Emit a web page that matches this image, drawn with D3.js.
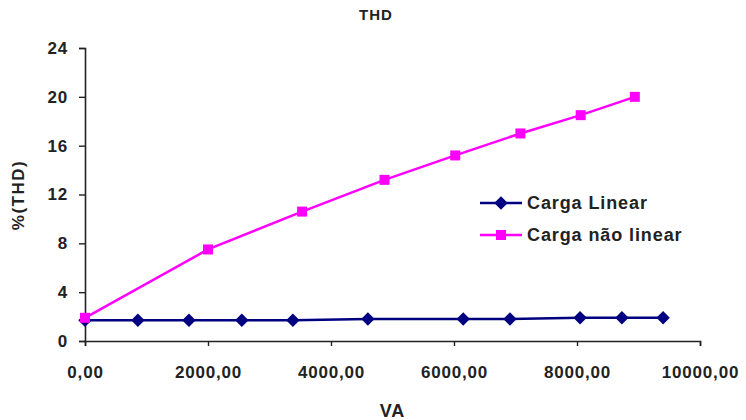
<!DOCTYPE html>
<html>
<head>
<meta charset="utf-8">
<script src="https://cdn.jsdelivr.net/npm/d3@7"></script>
<style>
  body { margin: 0; background: #fff; }
  text { font-family: "Liberation Sans", Arial, sans-serif; font-weight: bold; fill: #222; }
</style>
</head>
<body>
<div id="chart"></div>
<script>
// dados
const linearVA = [0, 860, 1690, 2550, 3380, 4600, 6150, 6910, 8050, 8730, 9400];
const linearTHD = [1.7, 1.7, 1.7, 1.7, 1.7, 1.8, 1.8, 1.8, 1.9, 1.9, 1.9];
const naoLinearVA = [0, 2000, 3530, 4870, 6020, 7080, 8060, 8940];
const naoLinearTHD = [1.9, 7.5, 10.6, 13.2, 15.2, 17.0, 18.5, 20.0];
const xTicks = [0, 2000, 4000, 6000, 8000, 10000];
const yTicks = [0, 4, 8, 12, 16, 20, 24];
const seriesNames = ["Carga Linear", "Carga não linear"];

const width = 746;
const height = 420;
const margin = { left: 85, right: 46, top: 48, bottom: 79 };

const svg = d3.select("#chart").append("svg")
    .attr("width", width)
    .attr("height", height);

const x = d3.scaleLinear().domain([0, 10000]).range([margin.left, width - margin.right]);
const y = d3.scaleLinear().domain([0, 24]).range([height - margin.bottom, margin.top]);

const fmt = d => d3.format(".2f")(d).replace(".", ",");

// eixo X
const gx = svg.append("g")
    .attr("transform", `translate(0,${height - margin.bottom})`)
    .call(d3.axisBottom(x).tickValues(xTicks).tickFormat(fmt).tickSize(5).tickSizeOuter(5).tickPadding(20));

// eixo Y
const gy = svg.append("g")
    .attr("transform", `translate(${margin.left},0)`)
    .call(d3.axisLeft(y).tickValues(yTicks).tickSize(6).tickSizeOuter(6).tickPadding(11));

[gx, gy].forEach(g => {
    g.select(".domain").attr("stroke", "#222").attr("stroke-width", 1.6);
    g.selectAll(".tick line").attr("stroke", "#222").attr("stroke-width", 1.4);
    g.selectAll(".tick text")
        .attr("fill", "#222")
        .style("font-size", "17px")
        .style("letter-spacing", "0.8px");
});

// título e rótulos
svg.append("text")
    .attr("x", 376).attr("y", 20)
    .attr("text-anchor", "middle")
    .style("font-size", "15px")
    .style("letter-spacing", "1px")
    .text("THD");

svg.append("text")
    .attr("x", (margin.left + width - margin.right) / 2).attr("y", 417)
    .attr("text-anchor", "middle")
    .style("font-size", "18px")
    .style("letter-spacing", "1px")
    .text("VA");

svg.append("text")
    .attr("transform", "translate(24,195) rotate(-90)")
    .attr("text-anchor", "middle")
    .style("font-size", "17px")
    .style("letter-spacing", "1.5px")
    .text("%(THD)");

const line = d3.line().x(d => x(d[0])).y(d => y(d[1]));

const linearData = linearVA.map((v, i) => [v, linearTHD[i]]);
const naoLinearData = naoLinearVA.map((v, i) => [v, naoLinearTHD[i]]);

const blue = "#000080";
const pink = "#ff00ff";

svg.append("path")
    .datum(linearData)
    .attr("fill", "none")
    .attr("stroke", blue)
    .attr("stroke-width", 2.5)
    .attr("d", line);

svg.append("path")
    .datum(naoLinearData)
    .attr("fill", "none")
    .attr("stroke", pink)
    .attr("stroke-width", 2.5)
    .attr("d", line);

const diamond = d3.symbol().type(d3.symbolDiamond2).size(115);
const square = d3.symbol().type(d3.symbolSquare).size(100);

svg.selectAll(".ptLinear")
    .data(linearData)
    .enter()
    .append("path")
    .attr("class", "ptLinear")
    .attr("transform", d => `translate(${x(d[0])},${y(d[1])})`)
    .attr("d", diamond)
    .attr("fill", blue);

svg.selectAll(".ptNaoLinear")
    .data(naoLinearData)
    .enter()
    .append("path")
    .attr("class", "ptNaoLinear")
    .attr("transform", d => `translate(${x(d[0])},${y(d[1])})`)
    .attr("d", square)
    .attr("fill", pink);

// legenda
const legend = svg.append("g").attr("transform", "translate(480,203)");
const legendColors = [blue, pink];
const legendSymbols = [diamond, square];

seriesNames.forEach((name, i) => {
    const row = legend.append("g").attr("transform", `translate(0,${i * 32})`);
    row.append("line")
        .attr("x1", 0).attr("x2", 42)
        .attr("stroke", legendColors[i])
        .attr("stroke-width", 2.5);
    row.append("path")
        .attr("transform", "translate(21,0)")
        .attr("d", legendSymbols[i])
        .attr("fill", legendColors[i]);
    row.append("text")
        .attr("x", 47).attr("dy", "0.36em")
        .style("font-size", "18px")
        .style("letter-spacing", "0.9px")
        .text(name);
});
</script>
</body>
</html>
